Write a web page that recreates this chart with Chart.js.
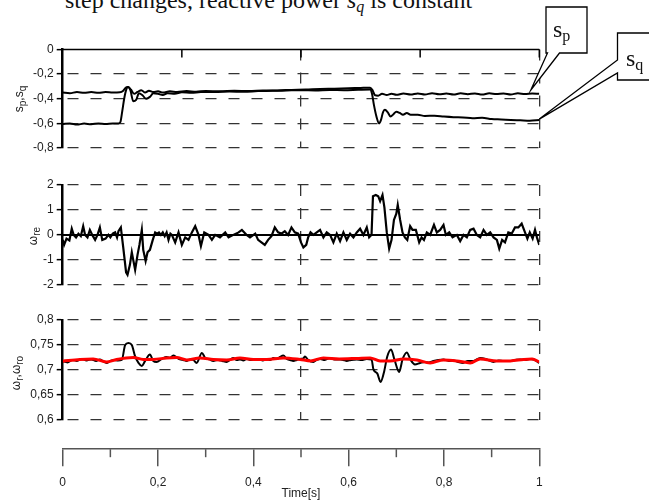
<!DOCTYPE html>
<html>
<head>
<meta charset="utf-8">
<script src="https://cdn.jsdelivr.net/npm/chart.js@4.4.1/dist/chart.umd.min.js"></script>
<style>
  body { margin: 0; background: #fff; }
  #page { position: relative; width: 649px; height: 501px; overflow: hidden; background: #fff;
          font-family: "Liberation Sans", Arial, sans-serif; }
  canvas { position: absolute; left: 0; }
  .serif { position: absolute; font-family: "Liberation Serif", "Times New Roman", serif;
           font-size: 24px; line-height: 24px; white-space: nowrap; color: #111; }
  .serif .sub { font-size: 16px; position: relative; top: 4px; }
  .ytitle { position: absolute; font-size: 12px; line-height: 14px; white-space: nowrap; color: #222;
            transform: translate(-50%, -50%) rotate(-90deg); }
  .ytitle sub { font-size: 10px; vertical-align: -3px; line-height: 0; }
</style>
</head>
<body>
<div id="page">
  <div class="serif" style="left:65px; top:-12px;">step changes, reactive power <i>s<span class="sub">q</span></i> is constant</div>

  <canvas id="cP" width="649" height="160" style="top:0px"></canvas>
  <canvas id="cRe" width="649" height="125" style="top:170px"></canvas>
  <canvas id="cR" width="649" height="125" style="top:305px"></canvas>
  <canvas id="cT" width="649" height="200" style="top:301px"></canvas>

  <div class="serif" style="left:553px; top:17px;">s<span class="sub">p</span></div>
  <div class="serif" style="left:626px; top:46px;">s<span class="sub">q</span></div>

  <div class="ytitle" style="left:19px; top:99px;">s<sub>p</sub>,s<sub>q</sub></div>
  <div class="ytitle" style="left:33px; top:236px;">ω<sub>re</sub></div>
  <div class="ytitle" style="left:16px; top:373px;">ω<sub>r</sub>,ω<sub>ro</sub></div>
</div>

<script>
// valeurs

// panneau 1 : sp (courbe haute) et sq (courbe basse)
const tSp = [0, 0.015, 0.03, 0.045, 0.06, 0.075, 0.09, 0.105, 0.12,
  0.127, 0.132, 0.137, 0.143, 0.15, 0.157, 0.165, 0.173, 0.181, 0.19,
  0.2, 0.21, 0.225, 0.24, 0.26, 0.28, 0.3,
  0.33, 0.36, 0.39, 0.42, 0.45, 0.48, 0.51, 0.54, 0.57, 0.6,
  0.625, 0.645, 0.65, 0.655, 0.662, 0.67, 0.68, 0.69, 0.7,
  0.715, 0.73, 0.745, 0.76, 0.775, 0.79, 0.805, 0.82, 0.835, 0.85,
  0.865, 0.88, 0.895, 0.91, 0.925, 0.94, 0.955, 0.97, 0.985, 1.0];
const sp = [-0.35, -0.355, -0.345, -0.352, -0.346, -0.352, -0.345, -0.35, -0.348,
  -0.335, -0.31, -0.305, -0.325, -0.36, -0.345, -0.33, -0.35, -0.335, -0.345,
  -0.34, -0.35, -0.34, -0.345, -0.338, -0.343, -0.337,
  -0.34, -0.336, -0.338, -0.333, -0.332, -0.328, -0.325, -0.32, -0.318, -0.315,
  -0.312, -0.31, -0.33, -0.37, -0.375, -0.36, -0.37, -0.36, -0.368,
  -0.358, -0.366, -0.357, -0.365, -0.356, -0.364, -0.358, -0.366, -0.356, -0.363,
  -0.357, -0.366, -0.356, -0.362, -0.357, -0.365, -0.356, -0.362, -0.358, -0.36];

const tSq = [0, 0.015, 0.03, 0.045, 0.06, 0.075, 0.09, 0.105,
  0.117, 0.121, 0.125, 0.129, 0.133, 0.137, 0.142, 0.148, 0.154, 0.16,
  0.167, 0.175, 0.183, 0.19, 0.2, 0.21, 0.22, 0.235, 0.25, 0.27,
  0.29, 0.32, 0.35, 0.38, 0.41, 0.44, 0.47, 0.5, 0.53, 0.56,
  0.59, 0.62, 0.645, 0.649, 0.653, 0.658, 0.664, 0.668, 0.672, 0.676,
  0.682, 0.688, 0.694, 0.7, 0.707, 0.714, 0.722, 0.73, 0.745, 0.76,
  0.78, 0.8, 0.82, 0.84, 0.86, 0.88, 0.9, 0.92, 0.94, 0.96,
  0.98, 1.0];
const sq = [-0.605, -0.6, -0.61, -0.602, -0.607, -0.6, -0.606, -0.6,
  -0.6, -0.59, -0.5, -0.4, -0.33, -0.305, -0.33, -0.42, -0.41, -0.355,
  -0.37, -0.4, -0.385, -0.355, -0.36, -0.37, -0.355, -0.36, -0.348, -0.352,
  -0.345, -0.346, -0.342, -0.343, -0.338, -0.336, -0.333, -0.33, -0.332, -0.328,
  -0.33, -0.327, -0.325, -0.36, -0.45, -0.54, -0.6, -0.57, -0.51, -0.49,
  -0.51, -0.545, -0.525, -0.505, -0.515, -0.53, -0.515, -0.53, -0.53, -0.54,
  -0.538, -0.545, -0.55, -0.552, -0.558, -0.555, -0.565, -0.568, -0.572, -0.575,
  -0.578, -0.572];

// panneau 2 : omega_re
const tRe = [0, 0.003, 0.008, 0.014, 0.019, 0.023, 0.028, 0.033, 0.038, 0.043,
  0.047, 0.052, 0.057, 0.062, 0.068, 0.073, 0.078, 0.083, 0.09, 0.096,
  0.1, 0.105, 0.11, 0.114, 0.117, 0.122, 0.127, 0.133, 0.136, 0.141,
  0.145, 0.148, 0.152, 0.157, 0.161, 0.166, 0.169, 0.174, 0.178, 0.183,
  0.189, 0.194, 0.198, 0.202, 0.206, 0.21, 0.214, 0.218, 0.222, 0.226,
  0.229, 0.236, 0.243, 0.25, 0.257, 0.264, 0.271, 0.278, 0.285, 0.29,
  0.297, 0.306, 0.313, 0.32, 0.33, 0.341, 0.348, 0.358, 0.369, 0.376,
  0.386, 0.393, 0.404, 0.41, 0.417, 0.424, 0.431, 0.438, 0.445, 0.452,
  0.459, 0.466, 0.473, 0.48, 0.487, 0.494, 0.5, 0.505, 0.511, 0.515,
  0.52, 0.526, 0.533, 0.54, 0.547, 0.554, 0.561, 0.568, 0.575, 0.582,
  0.589, 0.596, 0.603, 0.61, 0.617, 0.624, 0.631, 0.638, 0.643, 0.648,
  0.651, 0.657, 0.662, 0.666, 0.671, 0.675, 0.68, 0.685, 0.69, 0.695,
  0.7, 0.703, 0.708, 0.713, 0.718, 0.723, 0.729, 0.734, 0.741, 0.748,
  0.753, 0.758, 0.764, 0.771, 0.779, 0.785, 0.792, 0.799, 0.804, 0.811,
  0.818, 0.827, 0.834, 0.841, 0.848, 0.855, 0.862, 0.869, 0.876, 0.883,
  0.89, 0.897, 0.904, 0.911, 0.916, 0.922, 0.928, 0.935, 0.942, 0.949,
  0.956, 0.963, 0.97, 0.975, 0.98, 0.986, 0.991, 0.995, 1.0];
const wre = [-0.2, -0.4, -0.15, -0.22, 0.25, 0.0, -0.1, 0.05, -0.05, 0.35,
  0.0, -0.1, 0.2, 0.0, -0.2, 0.0, 0.3, -0.2, -0.15, 0.0,
  -0.1, 0.05, 0.1, -0.1, 0.15, 0.3, -0.5, -1.5, -1.6, -1.2,
  -0.7, -1.0, -1.4, -0.8, -0.4, 0.2, -0.6, -1.05, -0.7, -0.6,
  -0.2, 0.1, 0.05, 0.1, 0.0, 0.1, -0.05, 0.1, -0.2, 0.05,
  0.0, -0.3, 0.1, -0.4, -0.1, -0.2, 0.1, 0.35, 0.0, -0.45,
  0.1, 0.0, -0.2, 0.0, -0.1, 0.1, -0.1, 0.0, 0.1, 0.2,
  0.0, -0.1, 0.05, -0.2, -0.3, -0.4, -0.2, -0.05, 0.3, 0.1,
  0.05, 0.15, 0.0, 0.3, 0.1, 0.05, -0.3, -0.5, -0.4, -0.1,
  0.1, 0.0, 0.1, 0.2, -0.1, 0.1, 0.0, -0.3, 0.05, -0.25,
  0.1, -0.2, 0.05, -0.1, 0.1, 0.25, 0.0, 0.3, -0.1, 0.0,
  1.55, 1.6, 1.55, 1.35, 1.6, 1.1, 0.1, -0.55, -0.2, 0.6,
  0.85, 1.2, 0.6, 0.1, -0.1, -0.2, 0.35, 0.2, 0.2, -0.3,
  -0.1, -0.2, 0.1, 0.0, 0.4, 0.1, 0.2, 0.4, 0.0, 0.1,
  -0.1, 0.0, -0.25, 0.0, -0.1, 0.2, 0.25, 0.0, -0.1, 0.2,
  0.0, 0.1, -0.1, -0.2, -0.55, -0.2, -0.3, 0.1, 0.05, 0.3,
  0.3, 0.45, 0.1, -0.15, 0.1, -0.15, 0.2, -0.1, -0.4];

// panneau 3 : omega_r (noir) et omega_ro (rouge)
const tR = [0, 0.01, 0.02, 0.03, 0.04, 0.05, 0.06, 0.07, 0.078, 0.085,
  0.092, 0.1, 0.108, 0.116, 0.124, 0.131, 0.138, 0.145, 0.152, 0.159,
  0.166, 0.173, 0.183, 0.19, 0.197, 0.208, 0.218, 0.225, 0.232, 0.239,
  0.246, 0.253, 0.26, 0.267, 0.274, 0.281, 0.292, 0.299, 0.308, 0.316,
  0.326, 0.335, 0.344, 0.351, 0.358, 0.365, 0.372, 0.379, 0.386, 0.393,
  0.4, 0.41, 0.42, 0.428, 0.436, 0.442, 0.45, 0.456, 0.463, 0.47,
  0.477, 0.484, 0.491, 0.498, 0.505, 0.508, 0.515, 0.526, 0.533, 0.54,
  0.55, 0.561, 0.57, 0.582, 0.589, 0.596, 0.605, 0.617, 0.627, 0.638,
  0.648, 0.652, 0.66, 0.667, 0.674, 0.681, 0.689, 0.696, 0.706, 0.713,
  0.722, 0.73, 0.739, 0.75, 0.76, 0.768, 0.778, 0.788, 0.799, 0.81,
  0.82, 0.83, 0.84, 0.85, 0.862, 0.876, 0.89, 0.904, 0.915, 0.925,
  0.939, 0.95, 0.96, 0.97, 0.98, 0.99, 1.0];
const wr = [0.7175, 0.715, 0.72, 0.718, 0.722, 0.719, 0.721, 0.718, 0.721, 0.717,
  0.714, 0.718, 0.72, 0.719, 0.72, 0.75, 0.754, 0.75, 0.727, 0.714,
  0.708, 0.718, 0.731, 0.718, 0.716, 0.722, 0.726, 0.724, 0.729, 0.725,
  0.721, 0.72, 0.718, 0.721, 0.72, 0.714, 0.734, 0.724, 0.721, 0.718,
  0.72, 0.718, 0.716, 0.72, 0.724, 0.72, 0.721, 0.719, 0.722, 0.72,
  0.72, 0.722, 0.719, 0.721, 0.72, 0.724, 0.722, 0.726, 0.729, 0.722,
  0.72, 0.718, 0.72, 0.722, 0.723, 0.727, 0.72, 0.716, 0.72, 0.722,
  0.72, 0.724, 0.721, 0.721, 0.72, 0.718, 0.72, 0.721, 0.72, 0.722,
  0.721, 0.701, 0.693, 0.676, 0.695, 0.727, 0.741, 0.721, 0.696, 0.721,
  0.735, 0.72, 0.711, 0.714, 0.716, 0.715, 0.718, 0.72, 0.721, 0.718,
  0.719, 0.716, 0.714, 0.718, 0.718, 0.724, 0.721, 0.716, 0.719, 0.718,
  0.718, 0.72, 0.721, 0.72, 0.722, 0.72, 0.714];

const tRo = [0, 0.036, 0.064, 0.092, 0.113, 0.148, 0.169, 0.19, 0.218, 0.239,
  0.26, 0.288, 0.316, 0.344, 0.372, 0.4, 0.428, 0.463, 0.498, 0.52,
  0.547, 0.58, 0.617, 0.645, 0.666, 0.687, 0.715, 0.743, 0.771, 0.799,
  0.827, 0.855, 0.876, 0.911, 0.939, 0.967, 0.985, 1.0];
const wro = [0.7175, 0.721, 0.722, 0.716, 0.721, 0.725, 0.721, 0.721, 0.724, 0.725,
  0.72, 0.724, 0.721, 0.72, 0.724, 0.721, 0.721, 0.724, 0.721, 0.718,
  0.724, 0.722, 0.723, 0.724, 0.718, 0.718, 0.722, 0.72, 0.714, 0.72,
  0.718, 0.714, 0.722, 0.718, 0.718, 0.721, 0.722, 0.716];

// graduations
const yTicksP = [-0.8, -0.6, -0.4, -0.2, 0];
const yTicksRe = [-2, -1, 0, 1, 2];
const yTicksR = [0.6, 0.65, 0.7, 0.75, 0.8];
const xGridLines = [0.5, 1];
const xTopTicks = [0.25, 0.5, 0.75, 1];
const tTicks = [0, 0.1, 0.2, 0.3, 0.4, 0.5, 0.6, 0.7, 0.8, 0.9, 1];
const tLabels = ['0', '', '0,2', '', '0,4', '', '0,6', '', '0,8', '', '1'];

// bulles sp / sq : point visé sur le graphe
const bulleSp = { t: 0.982, v: -0.33 };
const bulleSq = { t: 1, v: -0.565 };

Chart.defaults.font.family = '"Liberation Sans", Arial, sans-serif';
Chart.defaults.font.size = 12;
Chart.defaults.color = '#222';

const pts = (ts, vs) => ts.map((t, i) => ({ x: t, y: vs[i] }));
const fmt = v => String(Math.round(v * 100) / 100).replace('.', ',');
const DASH = [11, 12];
const GRIS = '#333';

// lignes pleines (axe zéro), petits traits en haut, traits mineurs de l'axe du temps
const extraLines = {
  id: 'extraLines',
  beforeDatasetsDraw(chart, args, opts) {
    const { ctx, chartArea: a, scales: { x, y } } = chart;
    ctx.save();
    if (opts.solidY !== undefined) {
      const py = y.getPixelForValue(opts.solidY);
      ctx.strokeStyle = '#000';
      ctx.lineWidth = opts.solidWidth || 2;
      ctx.beginPath(); ctx.moveTo(a.left, py); ctx.lineTo(a.right, py); ctx.stroke();
    }
    if (opts.topTicks) {
      ctx.strokeStyle = '#000';
      ctx.lineWidth = 1.5;
      opts.topTicks.forEach(v => {
        const px = x.getPixelForValue(v);
        ctx.beginPath(); ctx.moveTo(px, a.top); ctx.lineTo(px, a.top + 8); ctx.stroke();
      });
    }
    if (opts.minorTicks) {
      ctx.strokeStyle = '#555';
      ctx.lineWidth = 1.5;
      opts.minorTicks.forEach(v => {
        const px = x.getPixelForValue(v);
        ctx.beginPath(); ctx.moveTo(px, a.bottom); ctx.lineTo(px, a.bottom + 8); ctx.stroke();
      });
    }
    ctx.restore();
  }
};

// bulles de légende avec pointe vers la courbe
const bulles = {
  id: 'bulles',
  afterDraw(chart, args, opts) {
    const { ctx, scales: { x, y } } = chart;
    ctx.save();
    opts.items.forEach(b => {
      const tx = x.getPixelForValue(b.pt.t);
      const ty = y.getPixelForValue(b.pt.v);
      ctx.beginPath();
      ctx.moveTo(b.x, b.y);
      ctx.lineTo(b.x + b.w, b.y);
      ctx.lineTo(b.x + b.w, b.y + b.h);
      if (b.side === 'bottom') {
        ctx.lineTo(b.b2, b.y + b.h);
        ctx.lineTo(tx, ty);
        ctx.lineTo(b.b1, b.y + b.h);
        ctx.lineTo(b.x, b.y + b.h);
      } else {
        ctx.lineTo(b.x, b.y + b.h);
        ctx.lineTo(b.x, b.b2);
        ctx.lineTo(tx, ty);
        ctx.lineTo(b.x, b.b1);
      }
      ctx.closePath();
      ctx.fillStyle = '#fff';
      ctx.fill();
      ctx.strokeStyle = '#000';
      ctx.lineWidth = 1.3;
      ctx.stroke();
    });
    ctx.restore();
  }
};

function panneau(id, datasets, yMin, yMax, yTicks, padding, lines, extraPlugins, extraOpts) {
  return new Chart(document.getElementById(id), {
    type: 'line',
    data: { datasets: datasets },
    options: {
      responsive: false,
      animation: false,
      layout: { padding: padding },
      elements: { point: { radius: 0 } },
      plugins: Object.assign({
        legend: { display: false },
        tooltip: { enabled: false },
        extraLines: lines
      }, extraOpts || {}),
      scales: {
        x: {
          type: 'linear', min: 0, max: 1,
          afterBuildTicks: s => { s.ticks = xGridLines.map(v => ({ value: v })); },
          ticks: { display: false },
          grid: { drawTicks: false, color: GRIS, lineWidth: 1.3 },
          border: { display: false, dash: DASH }
        },
        y: {
          min: yMin, max: yMax,
          afterBuildTicks: s => { s.ticks = yTicks.map(v => ({ value: v })); },
          afterFit: s => { s.width = 50; },
          ticks: { callback: v => fmt(v), padding: 3 },
          grid: {
            color: c => (c.tick && c.tick.value === lines.solidY) ? 'rgba(0,0,0,0)' : GRIS,
            lineWidth: 1.3, tickLength: 6, tickColor: '#000', tickWidth: 1.5
          },
          border: { display: true, color: '#000', width: 2.5, dash: DASH, dashOffset: -4 }
        }
      }
    },
    plugins: [extraLines].concat(extraPlugins || [])
  });
}

// panneau 1
panneau('cP', [
  { data: pts(tSp, sp), borderColor: '#000', borderWidth: 2, cubicInterpolationMode: 'monotone' },
  { data: pts(tSq, sq), borderColor: '#000', borderWidth: 2, cubicInterpolationMode: 'monotone' }
], -0.8, 0, yTicksP,
  { left: 12.7, right: 109.7, top: 49.5, bottom: 12 },
  { solidY: 0, solidWidth: 1.5, topTicks: xTopTicks },
  [bulles],
  { bulles: { items: [
    { pt: bulleSp, x: 546, y: 7, w: 41, h: 46, side: 'bottom', b1: 547.5, b2: 559.5 },
    { pt: bulleSq, x: 617.5, y: 33, w: 50, h: 47, side: 'left', b1: 60, b2: 73 }
  ] } });

// panneau 2
panneau('cRe', [
  { data: pts(tRe, wre), borderColor: '#000', borderWidth: 2.2 }
], -2, 2, yTicksRe,
  { left: 12.7, right: 109.7, top: 15, bottom: 9 },
  { solidY: 0, solidWidth: 2 });

// panneau 3 (rouge dessiné au-dessus)
panneau('cR', [
  { data: pts(tRo, wro), borderColor: '#f00', borderWidth: 3, cubicInterpolationMode: 'monotone' },
  { data: pts(tR, wr), borderColor: '#000', borderWidth: 2, cubicInterpolationMode: 'monotone' }
], 0.6, 0.8, yTicksR,
  { left: 12.7, right: 109.7, top: 15, bottom: 9 },
  {});

// axe du temps
new Chart(document.getElementById('cT'), {
  type: 'line',
  data: { datasets: [] },
  options: {
    responsive: false,
    animation: false,
    layout: { padding: { left: 62.7, right: 109.7, top: 0, bottom: 0 } },
    plugins: {
      legend: { display: false },
      tooltip: { enabled: false },
      extraLines: { minorTicks: tTicks.filter((v, i) => i % 2 === 1) }
    },
    scales: {
      x: {
        type: 'linear', min: 0, max: 1,
        afterBuildTicks: s => { s.ticks = tTicks.map(v => ({ value: v })); },
        ticks: { callback: (v, i) => tLabels[i], padding: 9, autoSkip: false, maxRotation: 0 },
        grid: {
          drawOnChartArea: false, tickLength: 17, lineWidth: 1.5,
          color: c => (c.index % 2 === 0) ? '#555' : 'rgba(0,0,0,0)'
        },
        border: { display: true, color: '#555', width: 1.5 },
        title: { display: true, text: 'Time[s]', padding: { top: -12, bottom: 0 }, color: '#222' }
      },
      y: { display: false }
    }
  },
  plugins: [extraLines]
});
</script>
</body>
</html>
